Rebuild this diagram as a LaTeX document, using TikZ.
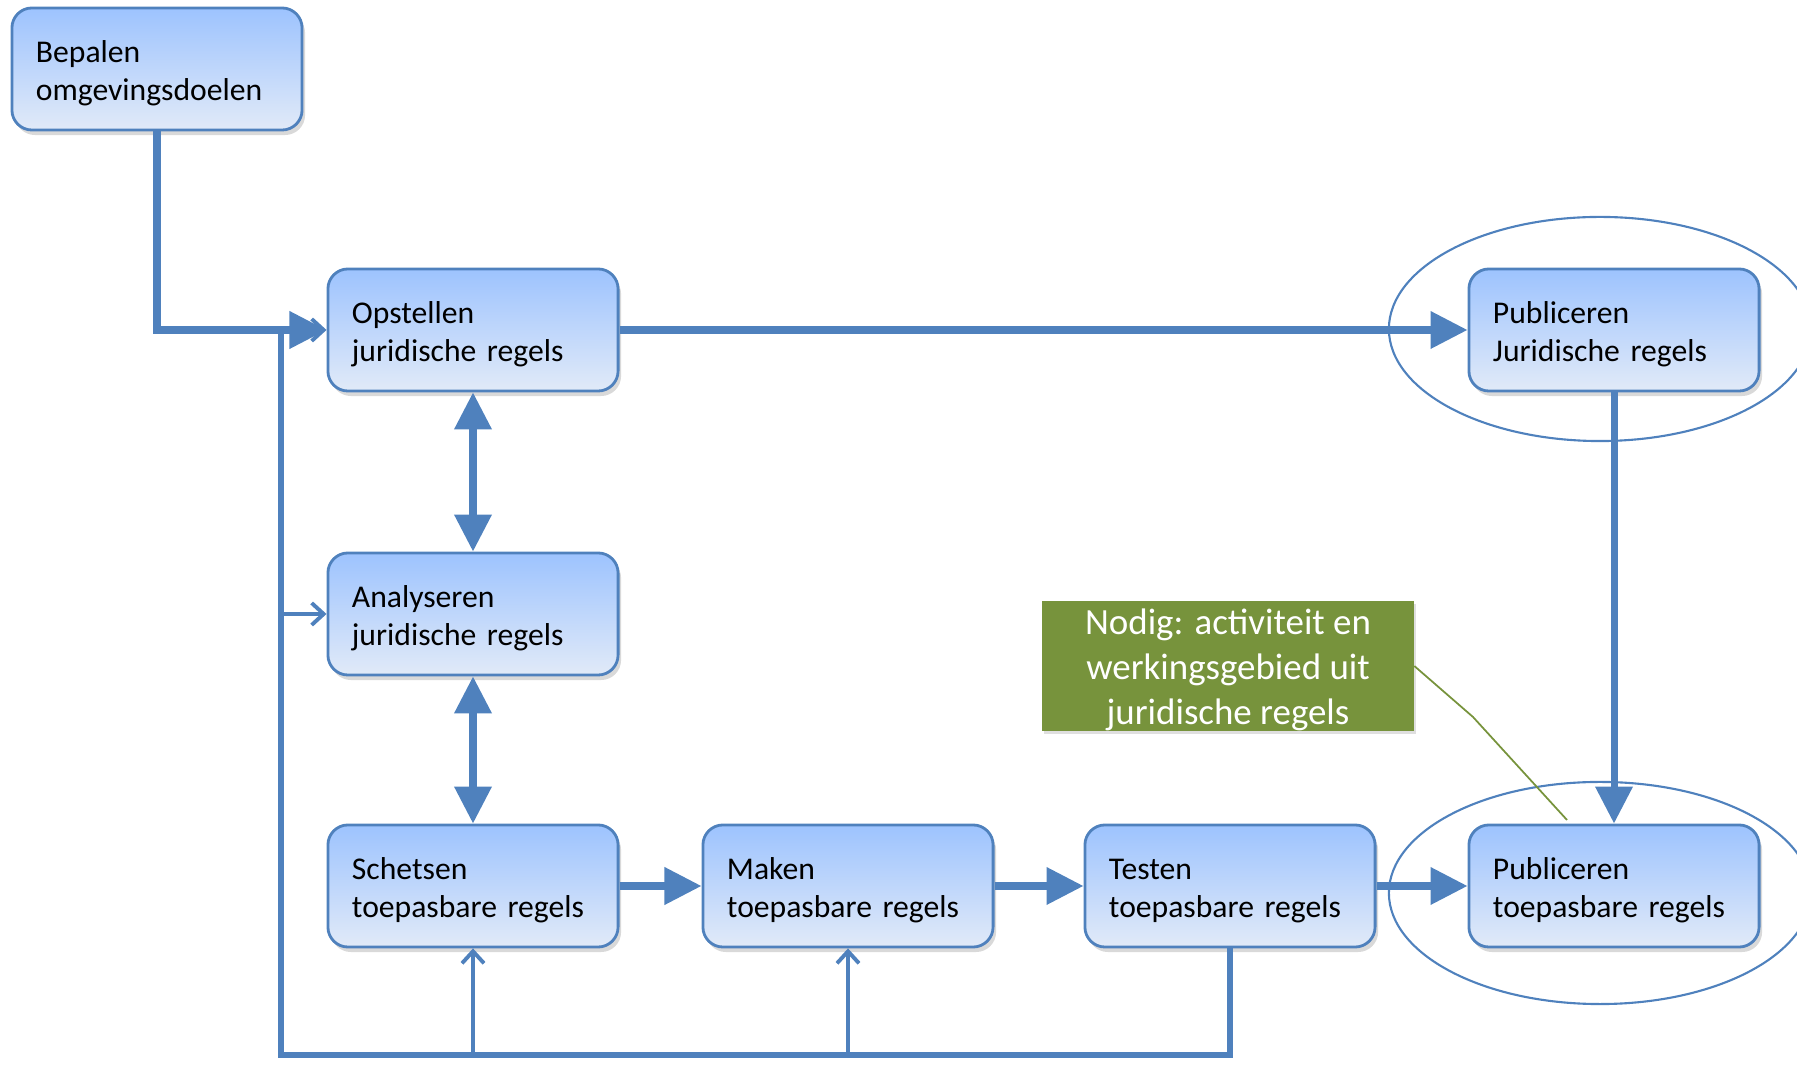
\documentclass[tikz,border=0pt]{standalone}
\usepackage{fontspec}
\setmainfont{Carlito}
\usepackage{tikz}
\usetikzlibrary{calc,positioning,arrows.meta,shadows}
\definecolor{lijn}{RGB}{79,129,189}
\definecolor{vaktop}{RGB}{157,195,254}
\definecolor{vakbodem}{RGB}{225,234,248}
\definecolor{groen}{RGB}{119,147,60}

\begin{document}
\begin{tikzpicture}[x=0.01cm, y=-0.01cm, font=\fontsize{9}{10.8}\selectfont,
  pijl/.style={draw=lijn, line width=2pt, -{Triangle[length=0.37cm,width=0.36cm]}},
  dpijl/.style={draw=lijn, line width=2pt, {Triangle[length=0.37cm,width=0.36cm]}-{Triangle[length=0.37cm,width=0.36cm]}},
  terug/.style={draw=lijn, line width=1.1pt, -{Straight Barb[length=0.12cm,width=0.22cm]}}]
\tikzstyle{stap}=[rectangle, rounded corners=0.2cm, draw=lijn, line width=0.8pt, top color=vaktop, bottom color=vakbodem, minimum width=2.9cm, minimum height=1.22cm, text width=2.42cm, inner xsep=0.24cm, align=left, execute at begin node={\rule{0pt}{8.4pt}}, drop shadow={shadow xshift=0.03cm, shadow yshift=-0.05cm, opacity=0.3}]
\useasboundingbox (0,0) rectangle (1797,1065);
\draw[lijn, line width=0.6pt] (1600,329) ellipse [x radius=2.11cm, y radius=1.12cm];
\draw[lijn, line width=0.6pt] (1600,893) ellipse [x radius=2.11cm, y radius=1.11cm];
\node[stap] (bep) at (157,69) {Bepalen\\omgevingsdoelen};
\node[stap] (ops) at (473,330) {Opstellen\\juridische regels};
\node[stap] (ana) at (473,614) {Analyseren\\juridische regels};
\node[stap] (sch) at (473,886) {Schetsen\\toepasbare regels};
\node[stap] (mak) at (848,886) {Maken\\toepasbare regels};
\node[stap] (tst) at (1230,886) {Testen\\toepasbare regels};
\node[stap] (pubj) at (1614,330) {Publiceren\\Juridische regels};
\node[stap] (pubt) at (1614,886) {Publiceren\\toepasbare regels};
\node[fill=groen, text=white, minimum width=3.71cm, minimum height=1.29cm, inner sep=0pt, align=center, font=\fontsize{10.5}{12.8}\selectfont, drop shadow={shadow xshift=0.02cm, shadow yshift=-0.03cm, opacity=0.25}] (nodig) at (1228,666) {\rule{0pt}{9.3pt}Nodig: activiteit en\\werkingsgebied uit\\juridische regels};
\coordinate (hoek) at (281,1055);
\coordinate (knik) at (1473,717);
\coordinate (punt) at (1567,820);
% terugkoppeling vanuit testen
\draw[lijn, line width=1.6pt] (tst.south) -- (tst.south |- hoek) -- (hoek) -- (hoek |- ops.west);
\foreach \i in {ops, ana}{\draw[terug] (hoek |- \i.west) -- (\i.west);}
\foreach \i in {sch, mak}{\draw[terug] (\i.south |- hoek) -- (\i.south);}
\draw[pijl] (bep.south) |- (ops.west);
\foreach \i/\j in {ops/pubj, pubj/pubt, sch/mak, mak/tst, tst/pubt}{\draw[pijl] (\i) -- (\j);}
\foreach \i/\j in {ops/ana, ana/sch}{\draw[dpijl] (\i) -- (\j);}
\draw[groen, line width=0.5pt] (nodig.east) -- (knik) -- (punt);
\end{tikzpicture}
\end{document}
